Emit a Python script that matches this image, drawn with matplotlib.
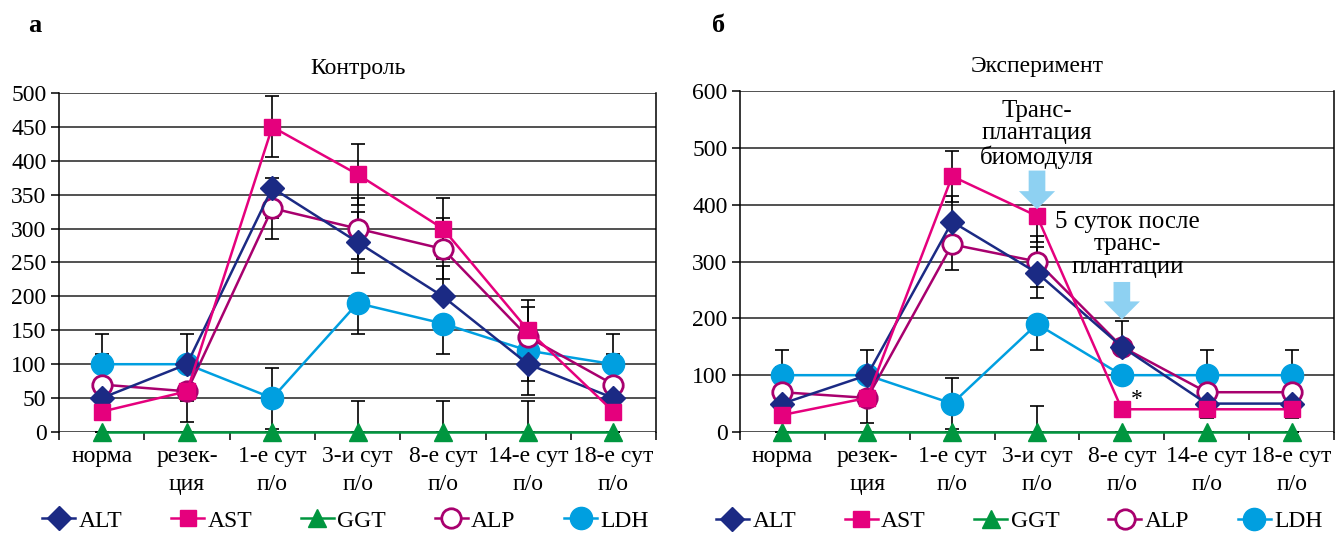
import numpy as np
import matplotlib
matplotlib.use("Agg")
import matplotlib.pyplot as plt

plt.rcParams["font.family"] = ["Liberation Serif", "DejaVu Serif"]

categories = ["норма", "резек-\nция", "1-е сут\nп/о", "3-и сут\nп/о",
              "8-е сут\nп/о", "14-е сут\nп/о", "18-е сут\nп/о"]
series_names = ["ALT", "AST", "GGT", "ALP", "LDH"]

# Контроль
ctrl_alt = [50, 100, 360, 280, 200, 100, 50]
ctrl_ast = [30, 60, 450, 380, 300, 150, 30]
ctrl_ggt = [0, 0, 0, 0, 0, 0, 0]
ctrl_alp = [70, 60, 330, 300, 270, 140, 70]
ctrl_ldh = [100, 100, 50, 190, 160, 120, 100]

# error bars (lower / upper) read from caps
ctrl_alt_lo = [0, 0, 45, 45, 0, 45, 0]
ctrl_alt_hi = [0, 0, 15, 45, 45, 0, 0]
ctrl_ast_lo = [0, 15, 45, 45, 45, 0, 0]
ctrl_ast_hi = [0, 0, 45, 45, 45, 45, 0]
ctrl_ggt_lo = [0, 0, 0, 0, 0, 0, 0]
ctrl_ggt_hi = [0, 0, 0, 45, 45, 45, 0]
ctrl_alp_lo = [0, 45, 45, 45, 45, 0, 0]
ctrl_alp_hi = [45, 0, 0, 45, 45, 45, 45]
ctrl_ldh_lo = [0, 0, 45, 45, 45, 45, 0]
ctrl_ldh_hi = [45, 45, 45, 0, 0, 0, 45]

# Эксперимент
exp_alt = [50, 100, 370, 280, 150, 50, 50]
exp_ast = [30, 60, 450, 380, 40, 40, 40]
exp_ggt = [0, 0, 0, 0, 0, 0, 0]
exp_alp = [70, 60, 330, 300, 150, 70, 70]
exp_ldh = [100, 100, 50, 190, 100, 100, 100]

exp_alt_lo = [0, 0, 0, 45, 0, 0, 0]
exp_alt_hi = [0, 0, 45, 45, 0, 0, 0]
exp_ast_lo = [0, 15, 45, 45, 0, 15, 15]
exp_ast_hi = [0, 0, 45, 45, 0, 0, 0]
exp_ggt_lo = [0, 0, 0, 0, 0, 0, 0]
exp_ggt_hi = [0, 0, 0, 45, 0, 0, 0]
exp_alp_lo = [0, 45, 45, 45, 0, 0, 0]
exp_alp_hi = [45, 0, 0, 45, 45, 0, 0]
exp_ldh_lo = [0, 0, 45, 45, 0, 0, 0]
exp_ldh_hi = [45, 45, 45, 0, 0, 45, 45]

styles = {
    "ALT": dict(color="#1B2A84", marker="D", ms=12, mfc="#1B2A84", mec="#1B2A84", mew=1),
    "AST": dict(color="#E5007D", marker="s", ms=12, mfc="#E5007D", mec="#E5007D", mew=1),
    "GGT": dict(color="#00963F", marker="^", ms=13, mfc="#00963F", mec="#00963F", mew=1),
    "ALP": dict(color="#A8006E", marker="o", ms=14, mfc="white", mec="#A8006E", mew=2),
    "LDH": dict(color="#009FE0", marker="o", ms=16, mfc="#009FE0", mec="#009FE0", mew=1),
}
draw_order = ["GGT", "LDH", "ALP", "ALT", "AST"]


def draw_panel(ax, vals, errs, ymax, step, title, legend_x):
    x = np.arange(len(categories))
    for gy in range(0, ymax + 1, step):
        ax.axhline(gy, color="#222222", lw=1.1, zorder=1)
    for name in series_names:
        lo, hi = errs[name]
        ax.errorbar(x, vals[name], yerr=[lo, hi], fmt="none", ecolor="black",
                    elinewidth=1.2, capsize=5, capthick=1.2, zorder=2)
    handles = {}
    for name in draw_order:
        st = styles[name]
        (h,) = ax.plot(x, vals[name], color=st["color"], lw=1.8, marker=st["marker"],
                       ms=st["ms"], mfc=st["mfc"], mec=st["mec"], mew=st["mew"],
                       zorder=3, clip_on=False, label=name)
        handles[name] = h
    ax.set_xlim(-0.5, len(categories) - 0.5)
    ax.set_ylim(0, ymax)
    ax.set_xticks(x)
    ax.set_xticklabels(categories, fontsize=17, linespacing=1.45)
    ax.set_xticks(np.arange(-0.5, len(categories)), minor=True)
    ax.tick_params(axis="x", which="major", length=0, pad=10)
    ax.tick_params(axis="x", which="minor", length=6, width=1.1, direction="out")
    ax.tick_params(axis="y", length=6, width=1.1, direction="out", labelsize=17, pad=3)
    ax.set_yticks(range(0, ymax + 1, step))
    for s in ["top", "bottom"]:
        ax.spines[s].set_visible(False)
    ax.spines["left"].set_linewidth(1.1)
    ax.spines["right"].set_linewidth(1.1)
    ax.set_title(title, fontsize=17, pad=14)
    ax.legend([handles[n] for n in series_names], series_names, loc="center",
              bbox_to_anchor=(legend_x, -0.262), ncol=5, frameon=False, fontsize=17,
              handlelength=1.4, handletextpad=0.15, columnspacing=2.05)


fig = plt.figure(figsize=(13.36, 5.35), dpi=100)
ax1 = fig.add_axes([0.0442, 0.1925, 0.4469, 0.6337])
ax2 = fig.add_axes([0.5539, 0.1925, 0.4446, 0.6374])

draw_panel(ax1,
           {"ALT": ctrl_alt, "AST": ctrl_ast, "GGT": ctrl_ggt, "ALP": ctrl_alp, "LDH": ctrl_ldh},
           {"ALT": (ctrl_alt_lo, ctrl_alt_hi), "AST": (ctrl_ast_lo, ctrl_ast_hi),
            "GGT": (ctrl_ggt_lo, ctrl_ggt_hi), "ALP": (ctrl_alp_lo, ctrl_alp_hi),
            "LDH": (ctrl_ldh_lo, ctrl_ldh_hi)},
           500, 50, "Контроль", 0.48)
draw_panel(ax2,
           {"ALT": exp_alt, "AST": exp_ast, "GGT": exp_ggt, "ALP": exp_alp, "LDH": exp_ldh},
           {"ALT": (exp_alt_lo, exp_alt_hi), "AST": (exp_ast_lo, exp_ast_hi),
            "GGT": (exp_ggt_lo, exp_ggt_hi), "ALP": (exp_alp_lo, exp_alp_hi),
            "LDH": (exp_ldh_lo, exp_ldh_hi)},
           600, 100, "Эксперимент", 0.47)

# annotations on the experiment panel
arrow_style = "simple,head_width=1.3,head_length=0.65,tail_width=0.6"
ax2.annotate("", xy=(3, 392), xytext=(3, 460),
             arrowprops=dict(arrowstyle=arrow_style, mutation_scale=20,
                             color="#8ED1F2", lw=0, shrinkA=0, shrinkB=0), zorder=4)
ax2.annotate("", xy=(4, 198), xytext=(4, 264),
             arrowprops=dict(arrowstyle=arrow_style, mutation_scale=20,
                             color="#8ED1F2", lw=0, shrinkA=0, shrinkB=0), zorder=4)
ax2.text(3, 524, "Транс-\nплантация\nбиомодуля", ha="center", va="center",
         fontsize=18, linespacing=1.05, zorder=5)
ax2.text(4.07, 330, "5 суток после\nтранс-\nплантации", ha="center", va="center",
         fontsize=18, linespacing=1.05, zorder=5)
ax2.text(4.17, 58, "*", ha="center", va="center", fontsize=17, zorder=5)

fig.text(0.021, 0.953, "а", fontsize=19, fontweight="bold", va="center")
fig.text(0.533, 0.953, "б", fontsize=19, fontweight="bold", va="center")

plt.savefig("out.png", dpi=100)
plt.close()
